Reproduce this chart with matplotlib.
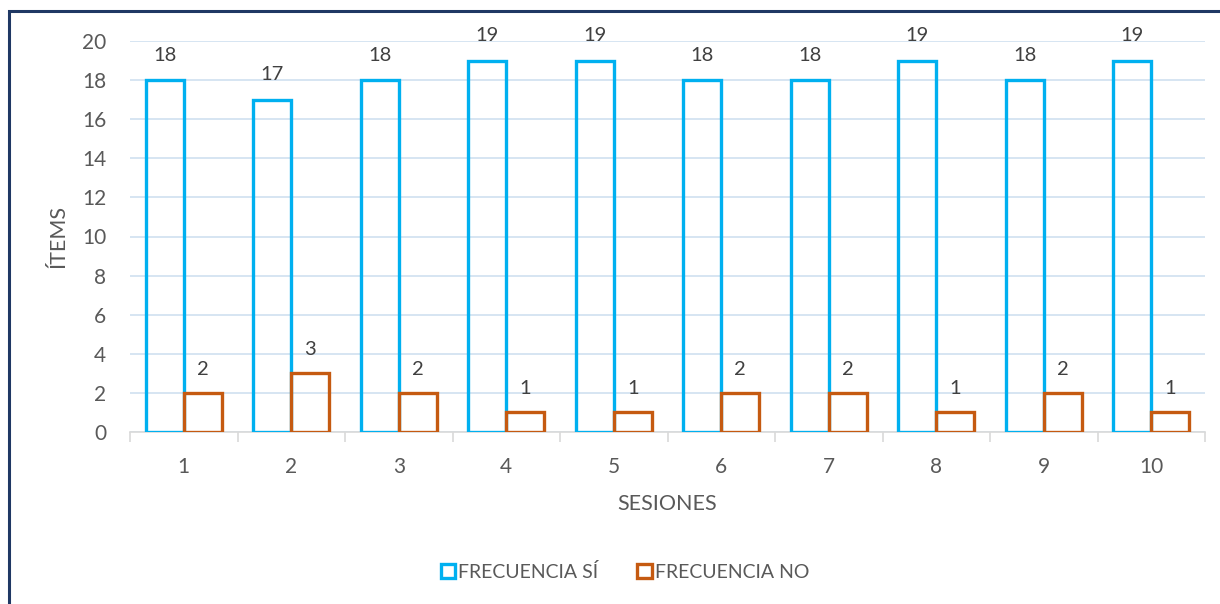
import matplotlib
matplotlib.use("Agg")
import matplotlib.pyplot as plt
import numpy as np
from matplotlib.patches import Rectangle

sesiones = ["1", "2", "3", "4", "5", "6", "7", "8", "9", "10"]
frec_si = [18, 17, 18, 19, 19, 18, 18, 19, 18, 19]
frec_no = [2, 3, 2, 1, 1, 2, 2, 1, 2, 1]

plt.rcParams['font.family'] = ['Lato', 'DejaVu Sans']
txt = '#595959'

fig = plt.figure(figsize=(12.2, 6.04), dpi=100)
ax = fig.add_axes([130/1220, 1-432/604, (1205-130)/1220, (432-41)/604])

x = np.arange(len(sesiones))
w = 0.355
blue = '#00B0F0'
orange = '#C55A11'
b1 = ax.bar(x - w/2, frec_si, w, facecolor='none', edgecolor=blue, linewidth=2.4,
            label='FRECUENCIA SÍ', zorder=3)
b2 = ax.bar(x + w/2, frec_no, w, facecolor='none', edgecolor=orange, linewidth=2.4,
            label='FRECUENCIA NO', zorder=3)

for xi, v in zip(x - w/2, frec_si):
    ax.annotate(str(v), (xi, v), xytext=(0, 18), textcoords='offset points',
                ha='center', va='center', fontsize=14.5, color='#404040')
for xi, v in zip(x + w/2, frec_no):
    ax.annotate(str(v), (xi, v), xytext=(0, 17), textcoords='offset points',
                ha='center', va='center', fontsize=14.5, color='#404040')

ax.set_xlim(-0.5, len(sesiones) - 0.5)
ax.set_ylim(0, 20)
ax.set_yticks(np.arange(0, 21, 2))
ax.tick_params(axis='y', length=0, labelsize=15, colors=txt, pad=17)
ax.set_xticks(x)
ax.set_xticklabels(sesiones)
ax.tick_params(axis='x', length=0, labelsize=15, colors=txt, pad=18)
ax.set_xticks(np.arange(-0.5, len(sesiones), 1), minor=True)
ax.tick_params(axis='x', which='minor', length=7, color='#D9D9D9', width=1.2)
ax.grid(axis='y', color='#D0E0F0', linewidth=1.2, zorder=0)
ax.set_axisbelow(True)
for s in ['top', 'right', 'left']:
    ax.spines[s].set_visible(False)
ax.spines['bottom'].set_color('#D9D9D9')
ax.spines['bottom'].set_linewidth(1.2)
ax.spines['bottom'].set_zorder(2)

ax.set_xlabel('SESIONES', fontsize=15.5, color=txt, labelpad=12)
ax.set_ylabel('ÍTEMS', fontsize=15.5, color=txt, labelpad=10)

leg = fig.legend(handles=[b1, b2], loc='center', bbox_to_anchor=(625/1220, 1-572/604),
                 ncol=2, frameon=False, fontsize=14, handlelength=0.75, handleheight=0.75,
                 handletextpad=0.15, columnspacing=2.0, labelcolor=txt)

fig.patches.append(Rectangle((9/1220, -0.1), 1.2, 1 - 11/604 + 0.1, transform=fig.transFigure,
                             facecolor='none', edgecolor='#1F3864', linewidth=2.2))

fig.savefig('out.png', dpi=100)
